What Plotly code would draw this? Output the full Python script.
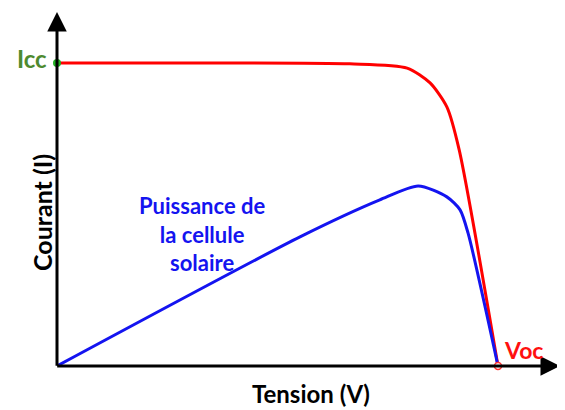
import plotly.graph_objects as go

# Normalised data: V / Voc and I / Icc
red_v = [0.0, 0.324, 0.664, 0.794, 0.846, 0.884, 0.912, 1.0]
red_i = [1.0, 1.0, 0.997, 0.983, 0.934, 0.855, 0.713, 0.0]

blue_v = [0.0, 0.551, 0.732, 0.819, 0.884, 0.914, 0.932, 1.0]
blue_p = [0.0, 0.426, 0.548, 0.594, 0.558, 0.515, 0.439, 0.0]

icc_label = "Icc"
voc_label = "Voc"
x_title = "Tension (V)"
y_title = "Courant (I)"
power_label = "Puissance de<br>la cellule<br>solaire"

XMAX = 1.1406
YMAX = 1.168

fig = go.Figure()
fig.add_trace(go.Scatter(x=red_v, y=red_i, mode="lines",
                         line=dict(color="#ff0000", width=3, shape="spline", smoothing=0.7),
                         hoverinfo="skip"))
fig.add_trace(go.Scatter(x=blue_v, y=blue_p, mode="lines",
                         line=dict(color="#1414f0", width=3, shape="spline", smoothing=0.7),
                         hoverinfo="skip"))
# Icc point
fig.add_trace(go.Scatter(x=[0], y=[1.0], mode="markers",
                         marker=dict(color="#22b022", size=8), hoverinfo="skip", cliponaxis=False))
# Voc point
fig.add_trace(go.Scatter(x=[1.0], y=[0], mode="markers",
                         marker=dict(color="white", size=7, line=dict(color="#ff3030", width=1.5)),
                         hoverinfo="skip", cliponaxis=False))

font = "Lato, 'Open Sans', sans-serif"
ann = []
# axes arrows
ann.append(dict(x=XMAX, y=0, ax=-0.003, ay=0, xref="x", yref="y", axref="x", ayref="y",
                showarrow=True, arrowhead=2, arrowsize=1.3, arrowwidth=3, arrowcolor="black", text=""))
ann.append(dict(x=0, y=YMAX, ax=0, ay=-0.004, xref="x", yref="y", axref="x", ayref="y",
                showarrow=True, arrowhead=2, arrowsize=1.3, arrowwidth=3, arrowcolor="black", text=""))
ann.append(dict(x=0, y=1.0, xref="x", yref="y", text=icc_label, showarrow=False,
                xanchor="right", xshift=-8, yshift=4,
                font=dict(family=font, size=24, color="#4e8a30", weight="bold")))
ann.append(dict(x=1.0, y=0.053, xref="x", yref="y", text=voc_label, showarrow=False,
                xanchor="left", yanchor="middle", xshift=4,
                font=dict(family=font, size=23, color="#ff1010", weight="bold")))
ann.append(dict(x=0.575, y=-0.079, xref="x", yref="paper", text=x_title, showarrow=False,
                yanchor="middle", font=dict(family=font, size=24, color="black", weight="bold")))
ann.append(dict(x=-0.0636, y=0.505, xref="paper", yref="y", text=y_title, showarrow=False,
                textangle=-90, font=dict(family=font, size=25, color="black", weight="bold")))
ann.append(dict(x=0.328, y=0.436, xref="x", yref="y", text=power_label, showarrow=False,
                align="center", font=dict(family=font, size=22, color="#1414f0", weight="bold")))

# the page adds an 8px body margin, so the figure is sized/offset to compensate
fig.update_layout(
    width=557, height=402,
    margin=dict(l=49, r=5, t=4, b=44),
    plot_bgcolor="white", paper_bgcolor="white",
    showlegend=False,
    xaxis=dict(range=[0, XMAX], visible=False, fixedrange=True),
    yaxis=dict(range=[0, YMAX], visible=False, fixedrange=True),
    annotations=ann,
)

fig.write_html("out.html")
